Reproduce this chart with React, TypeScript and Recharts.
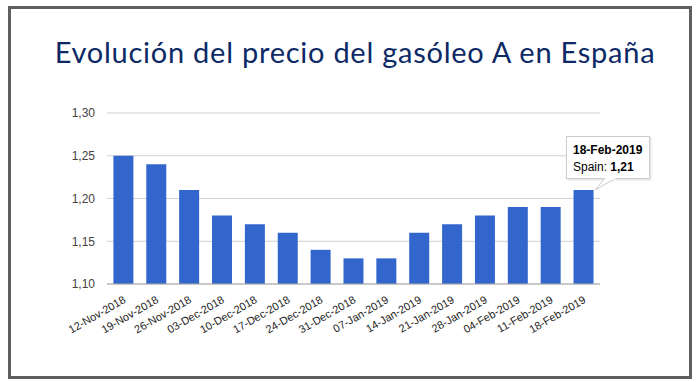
import { BarChart, Bar, XAxis, YAxis, CartesianGrid, Tooltip } from 'recharts'

const weeks = [
  '12-Nov-2018', '19-Nov-2018', '26-Nov-2018', '03-Dec-2018', '10-Dec-2018',
  '17-Dec-2018', '24-Dec-2018', '31-Dec-2018', '07-Jan-2019', '14-Jan-2019',
  '21-Jan-2019', '28-Jan-2019', '04-Feb-2019', '11-Feb-2019', '18-Feb-2019',
]
const spainPrice = [1.25, 1.24, 1.21, 1.18, 1.17, 1.16, 1.14, 1.13, 1.13, 1.16, 1.17, 1.18, 1.19, 1.19, 1.21]
const yTicks = [1.1, 1.15, 1.2, 1.25, 1.3]

const data = weeks.map((week, i) => ({ week, Spain: spainPrice[i] }))

const fmt = (v: number) => v.toFixed(2).replace('.', ',')

function DateTick({ x, y, payload }: any) {
  return (
    <text
      x={x + 3}
      y={y + 10}
      textAnchor="end"
      fontSize={11}
      fontFamily="Arial, 'Liberation Sans', sans-serif"
      fill="#222"
      transform={`rotate(-30 ${x + 3} ${y + 10})`}
    >
      {payload.value}
    </text>
  )
}

function PriceTooltip({ active, payload }: any) {
  if (!active || !payload || !payload.length) return null
  const p = payload[0]
  return (
    <div style={{ position: 'relative', width: 84, height: 43 }}>
      <div
        style={{
          boxSizing: 'border-box',
          width: 84,
          height: 43,
          background: '#fff',
          border: '1px solid #ccc',
          boxShadow: '1px 1px 2px rgba(0,0,0,0.15)',
          padding: '5px 6px',
          fontFamily: "Arial, 'Liberation Sans', sans-serif",
          fontSize: 12,
          lineHeight: '17px',
          color: '#000',
          whiteSpace: 'nowrap',
        }}
      >
        <div style={{ fontWeight: 'bold' }}>{p.payload.week}</div>
        <div>
          Spain: <b>{fmt(p.value)}</b>
        </div>
      </div>
      <svg
        width={30}
        height={14}
        style={{ position: 'absolute', left: 28, top: 42, overflow: 'visible' }}
      >
        <path d="M22,0 L1,12 L11,0" fill="#fff" stroke="#ccc" strokeWidth={1} />
        <line x1={11.5} y1={0.5} x2={21.5} y2={0.5} stroke="#fff" strokeWidth={2} />
      </svg>
    </div>
  )
}

export default function App() {
  return (
    <div style={{ position: 'absolute', left: 0, top: 0, width: 697, height: 382, background: '#fff' }}>
      <div
        style={{
          position: 'absolute',
          left: 8,
          top: 6,
          width: 684,
          height: 373,
          boxSizing: 'border-box',
          border: '3px solid #5f5f5f',
        }}
      />
      <div
        style={{
          position: 'absolute',
          left: 0,
          top: 32,
          width: 710,
          textAlign: 'center',
          fontFamily: 'Lato, sans-serif',
          fontSize: 29,
          letterSpacing: 0.75,
          color: '#0d2a66',
          lineHeight: '40px',
          whiteSpace: 'nowrap',
        }}
      >
        Evolución del precio del gasóleo A en España
      </div>
      <div style={{ position: 'absolute', left: 0, top: 0 }}>
        <BarChart
          width={697}
          height={382}
          data={data}
          margin={{ top: 113, right: 97, bottom: 38, left: 47 }}
          barCategoryGap="19.5%"
        >
          <CartesianGrid vertical={false} stroke="#d0d0d0" />
          <XAxis
            dataKey="week"
            interval={0}
            tickLine={false}
            axisLine={{ stroke: '#aaa' }}
            height={60}
            tick={<DateTick />}
          />
          <YAxis
            domain={[1.1, 1.3]}
            ticks={yTicks}
            tickFormatter={fmt}
            axisLine={false}
            tickLine={false}
            tickSize={0}
            tickMargin={12}
            width={60}
            tick={{ fontSize: 12, fill: '#444', fontFamily: "Arial, 'Liberation Sans', sans-serif" }}
          />
          <Tooltip
            active
            defaultIndex={14}
            cursor={false}
            position={{ x: 566, y: 136 }}
            isAnimationActive={false}
            content={<PriceTooltip />}
            wrapperStyle={{ outline: 'none' }}
          />
          <Bar dataKey="Spain" fill="#3366cc" isAnimationActive={false} />
        </BarChart>
      </div>
    </div>
  )
}
